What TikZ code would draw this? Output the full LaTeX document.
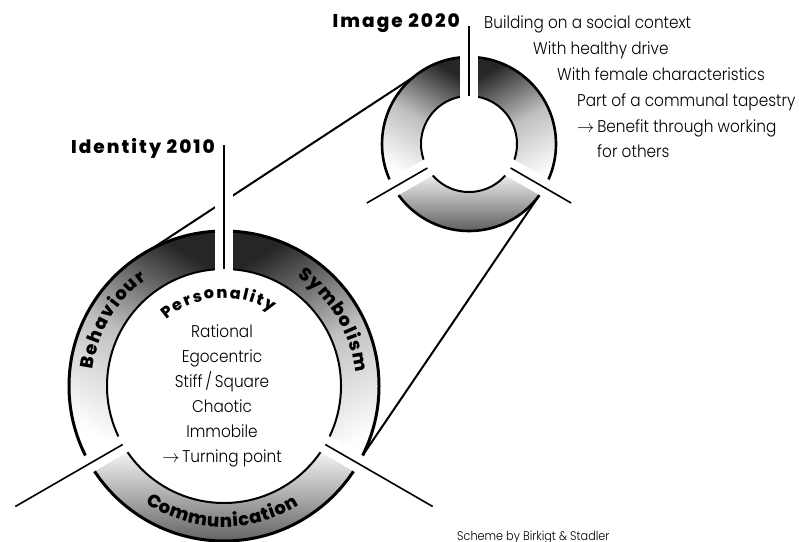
\documentclass[tikz,border=0pt]{standalone}
\usepackage{fontspec}
\newfontfamily\thinfont{Poppins Light}[FakeStretch=0.9]
\newfontfamily\heavyfont{Poppins ExtraBold}[LetterSpace=11]
\usetikzlibrary{calc, decorations.text}

% one shaded piece of a ring: start angle, end angle, inner r, outer r, shading
\newcommand{\ringpart}[5]{%
  \shade[#5] (#1:#4) arc[start angle=#1, end angle=#2, radius=#4]
    -- (#2:#3) arc[start angle=#2, end angle=#1, radius=#3] -- cycle;}

\tikzset{
  leftpart/.style={top color=black!85, bottom color=white, middle color=black!25, shading angle=-30},
  rightpart/.style={top color=black!85, bottom color=white, middle color=black!25, shading angle=30},
  lowpart/.style={top color=white, bottom color=black!75},
  rimout/.style={line width=3pt},
  rimin/.style={line width=2pt},
  zoomline/.style={line width=2pt},
  halo/.style={white, line width=18pt},
  spoke/.style={line width=1.6pt},
  title/.style={inner sep=0pt, font=\heavyfont\fontsize{18.5}{20}\selectfont},
  body/.style={inner sep=0pt, font=\thinfont\fontsize{17}{20}\selectfont},
  note/.style={inner sep=0pt, font=\thinfont\fontsize{12.5}{13}\selectfont},
  ringlabel/.style={decorate, decoration={text along path, text align=fit to path,
      text={|\heavyfont\fontsize{18}{18}\selectfont|#1}}},
}

\begin{document}
\begin{tikzpicture}[x=1pt, y=1pt]
    \useasboundingbox (0,0) rectangle (799,-541);
    \coordinate (big) at (224,-386);
    \coordinate (small) at (469,-144);

    % Identity ring (2010)
    \begin{scope}[shift={(big)}]
        \ringpart{90}{210}{117}{155}{leftpart}
        \ringpart{-30}{90}{117}{155}{rightpart}
        \ringpart{210}{330}{117}{155}{lowpart}
        \draw[rimout] (0,0) circle[radius=155];
        \draw[rimin] (0,0) circle[radius=117];
        \coordinate (bigA) at (118:155);
        \coordinate (bigB) at (333.3:155);
    \end{scope}

    % Image ring (2020)
    \begin{scope}[shift={(small)}]
        \ringpart{90}{210}{48}{87}{leftpart}
        \ringpart{-30}{90}{48}{87}{rightpart}
        \ringpart{210}{330}{48}{87}{lowpart}
        \draw[line width=2.6pt] (0,0) circle[radius=87];
        \draw[rimin] (0,0) circle[radius=48];
        \coordinate (smallA) at (130:87);
        \coordinate (smallB) at (324:87);
    \end{scope}

    % lines from the big ring to the small one
    \draw[zoomline] (bigA) -- (smallA);
    \draw[zoomline] (bigB) -- (smallB);

    % gaps and spokes
    \foreach \a in {90,210,330} {
        \draw[halo] ($(big)+(\a:110)$) -- ($(big)+(\a:241)$);
        \draw[spoke] ($(big)+(\a:117)$) -- ($(big)+(\a:241)$);
        \draw[halo] ($(small)+(\a:42)$) -- ($(small)+(\a:118)$);
        \draw[spoke] ($(small)+(\a:48)$) -- ($(small)+(\a:118)$);
    }

    % curved labels
    \begin{scope}[shift={(big)}]
        \path[ringlabel=Behaviour] (173:132) arc[start angle=173, end angle=126, radius=132];
        \path[ringlabel=Symbolism] (56:132) arc[start angle=56, end angle=6, radius=132];
        \path[ringlabel=Communication] (236:141) arc[start angle=236, end angle=302, radius=141];
        \path[decorate, decoration={text along path, text align=fit to path,
            text={|\heavyfont\fontsize{16}{16}\selectfont|Personality}}]
            (131:88) arc[start angle=131, end angle=57, radius=88];
    \end{scope}

    % titles
    \node[title, anchor=base east] (identity) at (215,-153) {Identity 2010};
    \node[title, anchor=base east] (image) at (460,-27) {Image 2020};

    % traits of the personality
    \foreach \w [count=\i] in {Rational, Egocentric, Stiff\,/\,Square, Chaotic, Immobile,
        {$\rightarrow$\,Turning point}}
        \node[body, anchor=base] (trait\i) at (222,-312-25*\i) {\w};

    % traits of the image
    \node[body, anchor=base west] (goal1) at (484,-28) {Building on a social context};
    \node[body, anchor=base west] (goal2) at (533,-54) {With healthy drive};
    \node[body, anchor=base west] (goal3) at (557,-80) {With female characteristics};
    \node[body, anchor=base west] (goal4) at (577,-106) {Part of a communal tapestry};
    \node[body, anchor=base west] (goal5) at (577,-132) {$\rightarrow$\,Benefit through working};
    \node[body, anchor=base west] (goal6) at (597,-157) {for others};

    \node[note, anchor=base west] (credit) at (457,-540) {Scheme by Birkigt \& Stadler};
\end{tikzpicture}
\end{document}
